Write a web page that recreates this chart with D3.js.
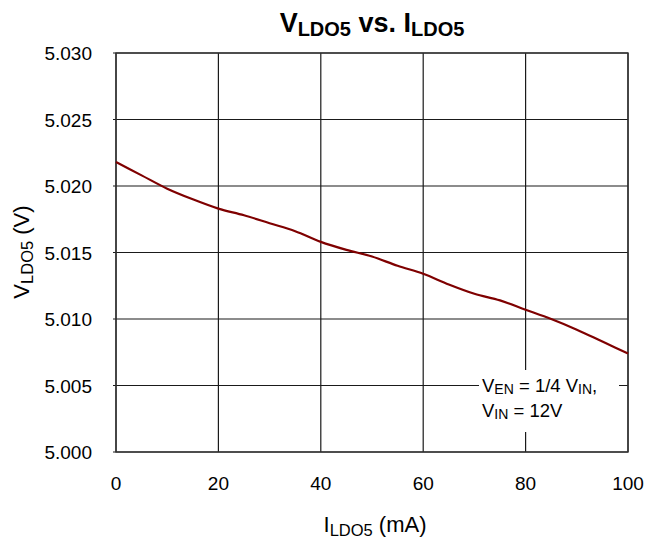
<!DOCTYPE html>
<html>
<head>
<meta charset="utf-8">
<script src="https://cdn.jsdelivr.net/npm/d3@7"></script>
<style>
  body { margin: 0; background: #fff; }
  svg text { font-family: "Liberation Sans", Arial, sans-serif; fill: #000; }
</style>
</head>
<body>
<svg id="chart" width="648" height="540"></svg>
<script>
// Load current (mA) and regulated LDO5 output voltage (V)
const currentMA = [0, 5, 10, 15, 20, 25, 30, 35, 40, 45, 50, 55, 60, 65, 70, 75, 80, 85, 90, 95, 100];
const vldo5 = [5.0218, 5.0208, 5.0198, 5.0190, 5.0183, 5.0178, 5.0172, 5.0166, 5.0158, 5.0152,
               5.0147, 5.0140, 5.0134, 5.0126, 5.0119, 5.0114, 5.0107, 5.0100, 5.0092, 5.0083, 5.0074];
const xTicks = [0, 20, 40, 60, 80, 100];
const yTicks = [5.000, 5.005, 5.010, 5.015, 5.020, 5.025, 5.030];

const svg = d3.select("#chart");
const plotL = 116, plotR = 628, plotT = 53, plotB = 452;

const x = d3.scaleLinear().domain([0, 100]).range([plotL, plotR]);
const y = d3.scaleLinear().domain([5.000, 5.030]).range([plotB, plotT]);

// grid lines
const grid = svg.append("g").attr("stroke", "#1a1a1a").attr("stroke-width", 1.2);
grid.selectAll(".gx").data(xTicks).join("line")
  .attr("x1", d => x(d)).attr("x2", d => x(d))
  .attr("y1", plotT).attr("y2", plotB);
grid.selectAll(".gy").data(yTicks).join("line")
  .attr("x1", plotL - 3).attr("x2", plotR)
  .attr("y1", d => y(d)).attr("y2", d => y(d));

// plot frame
svg.append("rect")
  .attr("x", plotL).attr("y", plotT)
  .attr("width", plotR - plotL).attr("height", plotB - plotT)
  .attr("fill", "none").attr("stroke", "#333").attr("stroke-width", 1.4);

// axis tick labels
svg.append("g").selectAll("text").data(xTicks).join("text")
  .attr("x", d => x(d)).attr("y", 490)
  .attr("text-anchor", "middle").attr("font-size", 19)
  .text(d => d);
svg.append("g").selectAll("text").data(yTicks).join("text")
  .attr("x", 92).attr("y", d => y(d) + 7)
  .attr("text-anchor", "end").attr("font-size", 19)
  .text(d => d3.format(".3f")(d));

// annotation with white backing
svg.append("rect").attr("x", 479).attr("y", 370).attr("width", 140).attr("height", 62).attr("fill", "#fff");
const note1 = svg.append("text").attr("x", 482).attr("y", 392).attr("font-size", 18.5);
note1.append("tspan").text("V");
note1.append("tspan").attr("font-size", 14).attr("dy", 2).text("EN");
note1.append("tspan").attr("dy", -2).text(" = 1/4 V");
note1.append("tspan").attr("font-size", 14).attr("dy", 2).text("IN");
note1.append("tspan").attr("dy", -2).text(",");
const note2 = svg.append("text").attr("x", 482).attr("y", 417).attr("font-size", 18.5);
note2.append("tspan").text("V");
note2.append("tspan").attr("font-size", 14).attr("dy", 2).text("IN");
note2.append("tspan").attr("dy", -2).text(" = 12V");

// data line
const line = d3.line().x((d, i) => x(currentMA[i])).y(d => y(d)).curve(d3.curveMonotoneX);
svg.append("path").datum(vldo5)
  .attr("d", line)
  .attr("fill", "none").attr("stroke", "#7f0000").attr("stroke-width", 2.2);

// title
const title = svg.append("text").attr("x", 372).attr("y", 32)
  .attr("text-anchor", "middle").attr("font-size", 27).attr("font-weight", "bold");
title.append("tspan").text("V");
title.append("tspan").attr("font-size", 20).attr("dy", 4).text("LDO5");
title.append("tspan").attr("dy", -4).text(" vs. I");
title.append("tspan").attr("font-size", 20).attr("dy", 4).text("LDO5");

// x axis title
const xt = svg.append("text").attr("x", 375).attr("y", 532)
  .attr("text-anchor", "middle").attr("font-size", 22);
xt.append("tspan").text("I");
xt.append("tspan").attr("font-size", 16.5).attr("dy", 4).text("LDO5");
xt.append("tspan").attr("dy", -4).text(" (mA)");

// y axis title
const yt = svg.append("text")
  .attr("transform", "translate(29,252) rotate(-90)")
  .attr("text-anchor", "middle").attr("font-size", 22);
yt.append("tspan").text("V");
yt.append("tspan").attr("font-size", 16.5).attr("dy", 4).text("LDO5");
yt.append("tspan").attr("dy", -4).text(" (V)");
</script>
</body>
</html>
